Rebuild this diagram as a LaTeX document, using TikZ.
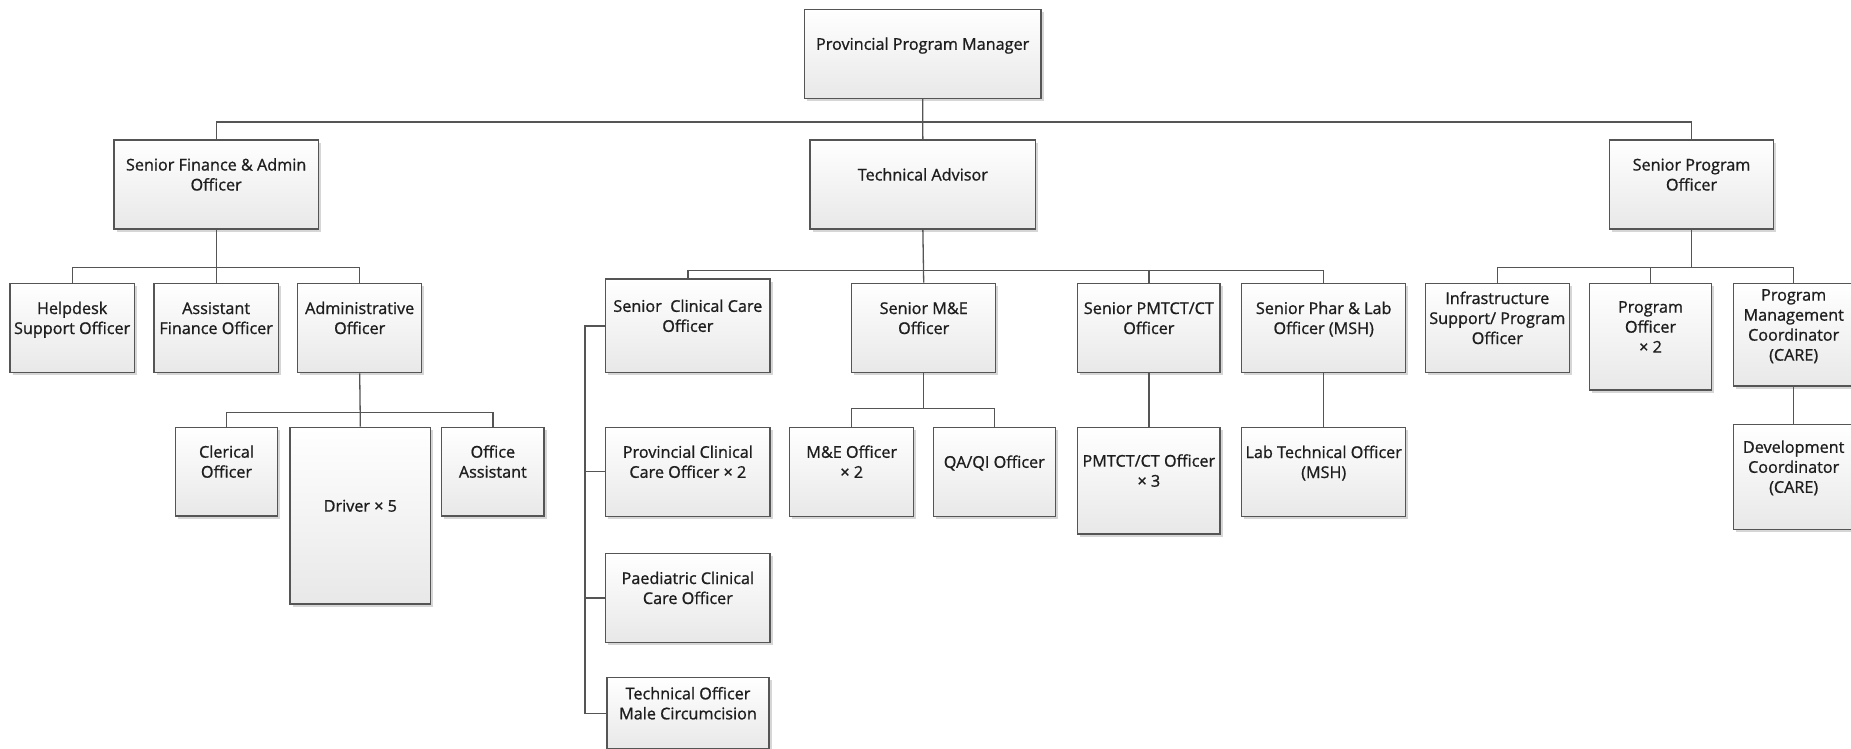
\documentclass[tikz,border=0pt]{standalone}
\usepackage{fontspec}
\setmainfont{Open Sans}[FakeBold=1]
\usetikzlibrary{shadows,calc}

\definecolor{boxline}{HTML}{555555}
\definecolor{textcol}{HTML}{1E1E1E}

\tikzset{
  box/.style={rectangle, draw=boxline, line width=1.3pt, inner sep=0pt,
    top color=white, bottom color=black!9,
    drop shadow={shadow xshift=2.5pt, shadow yshift=-2.5pt, fill=black!16, opacity=1}},
  boxtext/.style={align=center, inner sep=0pt, text=textcol,
    font=\fontsize{16.2}{20}\selectfont},
  link/.style={draw=boxline, line width=1.3pt}
}

% name, left, top, right, bottom, label
\newcommand\staffbox[6]{%
  \node[box, minimum width={(#4)-(#2)}, minimum height={(#5)-(#3)}]
    (#1) at ({((#2)+(#4))/2},{((#3)+(#5))/2}) {};
  \node[boxtext] (#1-t) at ([yshift=8pt]#1.center) {\strut #6\strut};
}

\begin{document}
\begin{tikzpicture}[x=1pt,y=-1pt]
\useasboundingbox (0,0) rectangle (1851,748);

% top levels
\staffbox{ppm}{804.3}{9.3}{1041}{98.3}{Provincial Program Manager}
\staffbox{sfa}{114}{140}{318.3}{229}{Senior Finance \& Admin\\Officer}
\staffbox{ta}{810}{140}{1035.7}{229}{Technical Advisor}
\staffbox{spo}{1609.3}{140}{1773.7}{229}{Senior Program\\Officer}

% finance and administration
\staffbox{help}{10}{283.3}{134.3}{372.7}{Helpdesk\\Support Officer}
\staffbox{asst}{154}{283.3}{278.3}{372.7}{Assistant\\Finance Officer}
\staffbox{admin}{297.7}{283.3}{421.7}{372.7}{Administrative\\Officer}
\staffbox{clerical}{175.3}{427.3}{277.7}{516}{Clerical\\Officer}
\staffbox{driver}{290}{427.3}{430.7}{604}{Driver × 5}
\staffbox{office}{441.7}{427.3}{544}{516}{Office\\Assistant}

% technical team
\staffbox{scc}{605.7}{279}{770}{372.7}{Senior\ \ Clinical Care\\Officer}
\staffbox{sme}{851.7}{283.3}{995.7}{372.7}{Senior M\&E\\Officer}
\staffbox{spmtct}{1077.7}{283.3}{1220}{372.7}{Senior PMTCT/CT\\Officer}
\staffbox{spl}{1241.7}{283.3}{1405.7}{372.7}{Senior Phar \& Lab\\Officer (MSH)}
\staffbox{pcc}{605.7}{427.3}{770}{516.3}{Provincial Clinical\\Care Officer × 2}
\staffbox{paed}{605.7}{553.7}{770}{642.3}{Paediatric Clinical\\Care Officer}
\staffbox{tomc}{607}{677.7}{769}{749}{Technical Officer\\Male Circumcision}
\staffbox{meo}{789.7}{427.3}{913.7}{516.3}{M\&E Officer\\× 2}
\staffbox{qaqi}{933.3}{427.3}{1055.3}{516.3}{QA/QI Officer}
\staffbox{pmtcto}{1077.7}{427.3}{1220}{534}{PMTCT/CT Officer\\× 3}
\staffbox{labtech}{1241.7}{427.3}{1405.7}{516.7}{Lab Technical Officer\\(MSH)}

% programme team
\staffbox{infra}{1425.3}{283.3}{1569.3}{372.7}{Infrastructure\\Support/ Program\\Officer}
\staffbox{progoff}{1589.3}{283.3}{1711.7}{390}{Program\\Officer\\× 2}
\staffbox{pmc}{1733.3}{283.3}{1854}{386}{Program\\Management\\Coordinator\\(CARE)}
\staffbox{devc}{1733.3}{424.3}{1854}{529.3}{Development\\Coordinator\\(CARE)}

% reporting lines
\coordinate (topbus) at (923,122);
\draw[link] (sfa.north) |- (topbus) -| (spo.north);
\draw[link] (ppm.south) -- (ta.north);

\coordinate (finbus) at (216,267.3);
\draw[link] (help.north) |- (finbus) -| (admin.north);
\draw[link] (sfa.south) -- (asst.north);

\coordinate (adminbus) at (360,412.7);
\draw[link] (clerical.north) |- (adminbus) -| (office.north);
\draw[link] (admin.south) -- (driver.north);

\coordinate (techbus) at (923,270.5);
\draw[link] (scc.north) |- (techbus) -| (spl.north);
\draw[link] (ta.south) -- (sme.north);
\draw[link] (spmtct.north) -- (spmtct.north |- techbus);

\coordinate (rail) at ($(scc.west)+(-20,0)$);
\draw[link] (scc.west) -- (rail) |- (tomc.west);
\draw[link] (pcc.west) -- (rail |- pcc.west);
\draw[link] (paed.west) -- (rail |- paed.west);

\coordinate (mebus) at (923.7,408.7);
\draw[link] (meo.north) |- (mebus) -| (qaqi.north);
\draw[link] (sme.south) -- (mebus);

\draw[link] (spmtct.south) -- (pmtcto.north);
\draw[link] (spl.south) -- (labtech.north);

\coordinate (progbus) at (1691.5,267.7);
\draw[link] (infra.north) |- (progbus) -| (pmc.north);
\draw[link] (spo.south) -- (progbus);
\draw[link] (progoff.north) -- (progoff.north |- progbus);
\draw[link] (pmc.south) -- (devc.north);
\end{tikzpicture}
\end{document}
